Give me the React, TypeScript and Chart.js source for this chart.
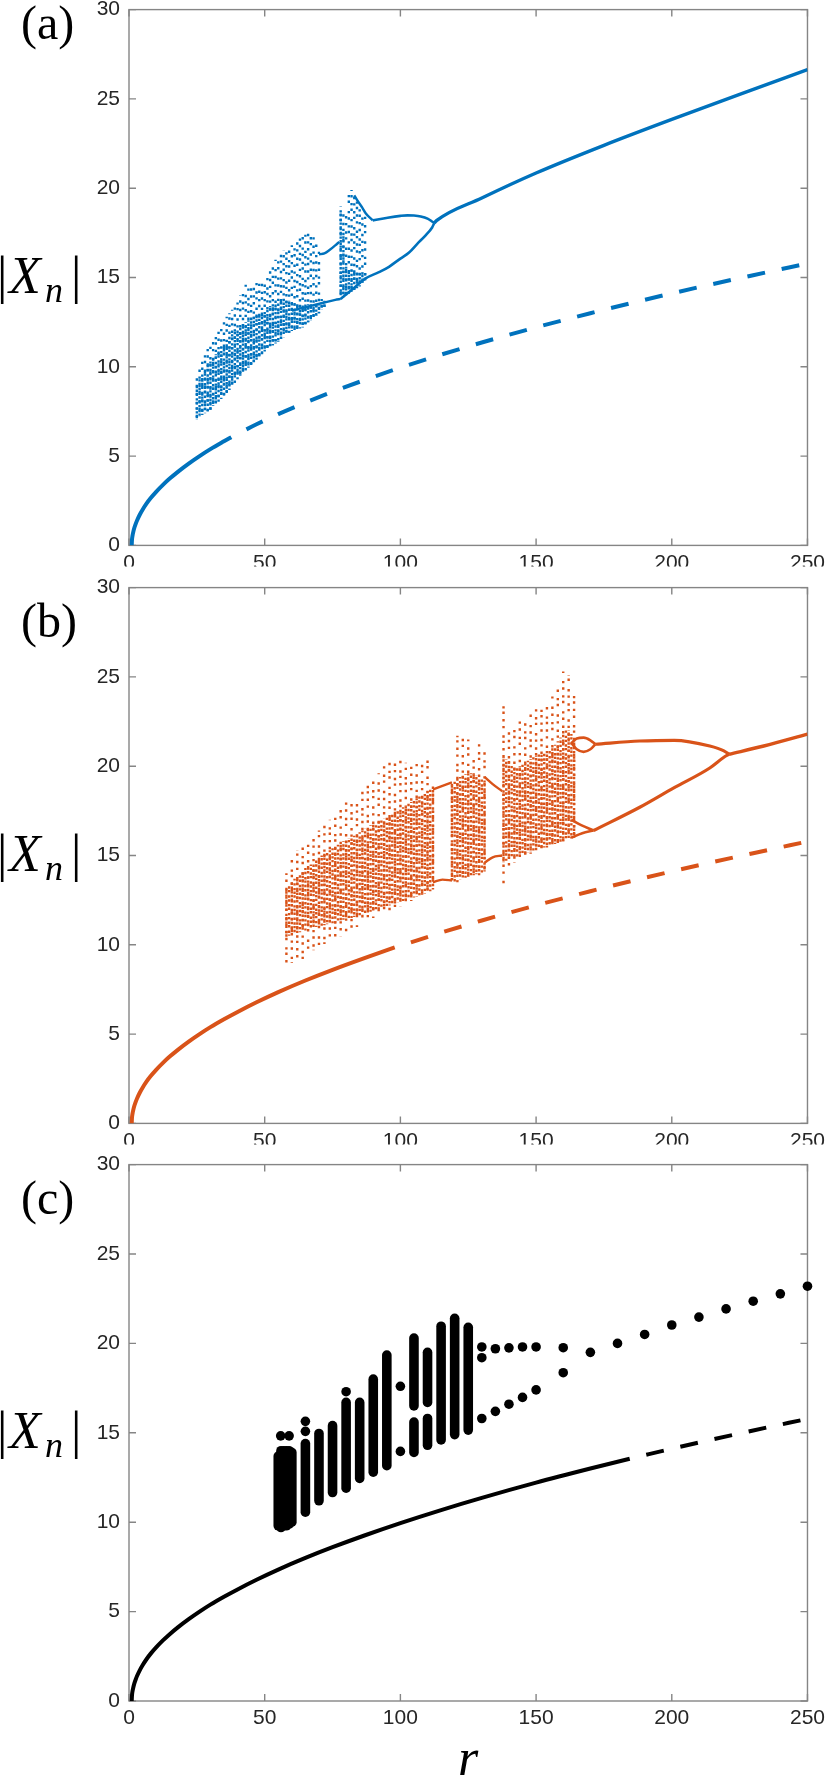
import React, { useEffect, useRef } from "react";
import { Chart, registerables } from "chart.js";

Chart.register(...registerables);

const SANS = "'Liberation Sans', Arial, Helvetica, sans-serif";
const SERIF = "'Liberation Serif', 'Times New Roman', serif";

const BLUE = "#0072BD";
const ORANGE = "#D95319";
const BLACK = "#000000";

// ---------- axes ----------
const xTicks = [0, 50, 100, 150, 200, 250];
const yTicks = [0, 5, 10, 15, 20, 25, 30];

// ---------- fixed-point branch |X| vs r (same in all panels) ----------
const fpR = [1, 1.1, 1.3, 1.6, 2, 2.5, 3, 4, 5, 6.5, 8, 10, 12.5, 15, 18, 22, 26, 30, 35, 40, 47, 55, 65, 75, 87, 100, 115, 130, 150, 170, 190, 210, 230, 250];
const fpY = [0, 0.32, 0.55, 0.77, 1.0, 1.22, 1.41, 1.73, 2.0, 2.35, 2.65, 3.0, 3.39, 3.74, 4.12, 4.58, 5.0, 5.39, 5.83, 6.24, 6.78, 7.35, 8.0, 8.6, 9.27, 9.95, 10.68, 11.36, 12.21, 13.0, 13.75, 14.46, 15.13, 15.78];
// where the branch turns from solid (stable) to dashed (unstable)
const aSplit = [37.7, 6.06];
const bSplit = [97.9, 9.85];
const cSplit = [184.5, 13.55];

// ---------- panel (a) ----------
const aCloudR = [25, 26, 27, 28, 29, 30, 31, 32, 33, 34, 35, 36, 37, 38, 39, 40, 41, 42, 43, 44, 45, 46, 47, 48, 49, 50, 51, 52, 53, 54, 55, 56, 57, 58, 59, 60, 61, 62, 63, 64, 65, 66, 67, 68, 69, 70, 71, 72, 78, 79, 80, 81, 82, 83, 84, 85, 86, 87];
const aCloudLo = [7.05, 7.2, 7.3, 7.4, 7.5, 7.6, 7.8, 7.9, 8.05, 8.2, 8.35, 8.5, 8.7, 8.9, 9.1, 9.3, 9.5, 9.65, 9.8, 9.95, 10.1, 10.25, 10.4, 10.55, 10.7, 10.85, 11.0, 11.1, 11.2, 11.3, 11.4, 11.55, 11.65, 11.8, 11.9, 12.0, 12.05, 12.1, 12.15, 12.2, 12.35, 12.5, 12.6, 12.7, 12.85, 13.0, 13.2, 13.35, 13.8, 13.9, 14.0, 14.1, 14.2, 14.3, 14.4, 14.5, 14.7, 14.85];
const aCloudHi = [9.5, 10.3, 10.5, 10.8, 11.0, 11.3, 11.6, 11.8, 12.1, 12.3, 12.5, 12.8, 13.0, 13.2, 13.4, 13.6, 14.0, 14.3, 14.6, 14.6, 14.6, 14.6, 14.7, 14.7, 14.7, 15.0, 15.2, 15.4, 15.7, 16.0, 16.2, 16.4, 16.5, 16.6, 16.7, 16.8, 16.9, 17.0, 17.2, 17.3, 17.4, 17.5, 17.6, 17.3, 17.0, 16.6, 13.8, 13.7, 19.0, 18.8, 18.6, 19.8, 19.9, 19.6, 19.3, 18.9, 18.7, 18.5];
const aCoreHi = [9.0, 9.3, 9.6, 9.9, 10.1, 10.3, 10.5, 10.7, 10.9, 11.1, 11.3, 11.5, 11.7, 11.85, 12.0, 12.15, 12.3, 12.4, 12.5, 12.6, 12.7, 12.8, 12.9, 13.0, 13.1, 13.2, 13.3, 13.4, 13.5, 13.6, 13.7, 13.8, 13.8, 13.8, 13.7, 13.6, 13.5, 13.5, 13.5, 13.5, 13.5, 13.5, 13.5, 13.5, 13.5, 13.55, 13.6, 13.65, 18.8, 17.5, 15.6, 15.5, 15.4, 15.4, 15.3, 15.3, 15.3, 15.3];
const aWinLowR = [60, 64, 68, 72, 76, 78];
const aWinLowY = [13.15, 13.3, 13.45, 13.6, 13.75, 13.8];
const aWinUpR = [70, 72, 74, 76, 77.5];
const aWinUpY = [16.3, 16.35, 16.55, 16.8, 17.0];
const aForkR = [83, 84.2, 86, 87.2, 89.8];
const aForkY = [19.6, 19.3, 18.9, 18.6, 18.2];
const aUpperR = [89.8, 95.3, 100, 102.6, 105, 107.5, 110, 111.5, 112.5];
const aUpperY = [18.2, 18.35, 18.45, 18.48, 18.47, 18.42, 18.3, 18.15, 18.05];
const aLowerR = [78, 82, 87.2, 92.1, 95.8, 100, 103.2, 106.3, 109.3, 111.7, 112.5];
const aLowerY = [13.8, 14.3, 14.95, 15.3, 15.6, 16.06, 16.4, 16.9, 17.36, 17.8, 18.05];
const aMainR = [112.5, 113.3, 130, 150, 175, 200, 225, 250];
const aMainY = [18.05, 18.18, 19.45, 20.85, 22.4, 23.85, 25.25, 26.64];

// ---------- panel (b) ----------
const bHaloR = [58, 60, 62, 64, 66, 68, 70, 72, 74, 76, 78, 80, 82, 84, 86, 88, 90, 92, 94, 96, 98, 100, 102, 104, 106, 108, 110, 112, 119, 121, 123, 125, 127, 129, 131, 138, 140, 142, 144, 146, 148, 150, 152, 154, 156, 158, 160, 162, 164];
const bHaloLo = [9.0, 9.0, 9.1, 9.15, 9.5, 9.7, 9.9, 10.05, 10.2, 10.35, 10.45, 10.6, 10.8, 11.0, 11.2, 11.35, 11.5, 11.65, 11.75, 11.9, 12.05, 12.15, 12.3, 12.45, 12.6, 12.8, 12.95, 13.3, 13.4, 13.5, 13.6, 13.7, 13.8, 13.9, 14.0, 13.4, 14.4, 14.6, 14.8, 15.0, 15.1, 15.2, 15.3, 15.45, 15.55, 15.7, 15.8, 15.9, 16.0];
const bHaloHi = [14.0, 14.9, 15.3, 15.6, 15.9, 16.2, 16.4, 16.7, 17.0, 17.3, 17.6, 18.0, 17.9, 18.2, 18.8, 19.2, 19.3, 19.6, 20.0, 20.3, 20.4, 20.3, 20.2, 20.1, 20.2, 20.3, 20.4, 19.0, 19.0, 21.7, 21.7, 21.5, 20.8, 21.45, 21.0, 23.7, 22.0, 22.3, 22.5, 22.6, 23.0, 23.4, 23.4, 23.4, 23.9, 24.4, 25.3, 25.1, 24.2];
const bCoreR = [58, 59, 60, 61, 62, 63, 64, 65, 66, 67, 68, 69, 70, 71, 72, 73, 74, 75, 76, 77, 78, 79, 80, 81, 82, 83, 84, 85, 86, 87, 88, 89, 90, 91, 92, 93, 94, 95, 96, 97, 98, 99, 100, 101, 102, 103, 104, 105, 106, 107, 108, 109, 110, 111, 112,
  119, 120, 121, 122, 123, 124, 125, 126, 127, 128, 129, 130, 131,
  138, 139, 140, 141, 142, 143, 144, 145, 146, 147, 148, 149, 150, 151, 152, 153, 154, 155, 156, 157, 158, 159, 160, 161, 162, 163, 164];
const bCoreLo = [10.4, 10.5, 10.55, 10.6, 10.65, 10.7, 10.75, 10.8, 10.85, 10.9, 10.95, 11.0, 11.0, 11.05, 11.1, 11.15, 11.2, 11.2, 11.25, 11.3, 11.35, 11.4, 11.45, 11.5, 11.5, 11.55, 11.6, 11.65, 11.7, 11.75, 11.8, 11.85, 11.9, 11.95, 12.0, 12.05, 12.1, 12.15, 12.2, 12.25, 12.3, 12.35, 12.4, 12.45, 12.5, 12.55, 12.6, 12.65, 12.7, 12.75, 12.8, 12.85, 12.9, 13.0, 13.1,
  13.5, 13.55, 13.6, 13.65, 13.7, 13.75, 13.8, 13.85, 13.9, 13.95, 14.0, 14.05, 14.1,
  14.6, 14.7, 14.8, 14.85, 14.9, 14.95, 15.0, 15.05, 15.1, 15.15, 15.2, 15.25, 15.3, 15.35, 15.4, 15.45, 15.5, 15.55, 15.6, 15.65, 15.7, 15.75, 15.8, 15.85, 15.9, 15.95, 16.0];
const bCoreHi = [13.2, 13.4, 13.5, 13.7, 13.8, 14.0, 14.1, 14.3, 14.4, 14.5, 14.6, 14.75, 14.9, 15.0, 15.1, 15.2, 15.3, 15.4, 15.5, 15.6, 15.7, 15.8, 15.9, 15.95, 16.0, 16.1, 16.2, 16.3, 16.4, 16.5, 16.6, 16.7, 16.75, 16.8, 16.9, 17.0, 17.1, 17.2, 17.3, 17.35, 17.45, 17.55, 17.6, 17.7, 17.8, 17.9, 18.0, 18.1, 18.2, 18.3, 18.4, 18.5, 18.6, 18.7, 18.8,
  19.0, 19.2, 19.3, 19.4, 19.5, 19.55, 19.6, 19.6, 19.6, 19.5, 19.4, 19.3, 19.2,
  20.5, 20.4, 20.3, 20.1, 20.0, 20.0, 20.0, 20.1, 20.2, 20.3, 20.4, 20.5, 20.6, 20.65, 20.7, 20.75, 20.8, 20.9, 21.0, 21.2, 21.4, 21.6, 21.8, 22.0, 22.0, 21.8, 21.5];
const bWinLoR = [112, 115.5, 119];
const bWinLoY = [13.5, 13.65, 13.6];
const bWinUpR = [112, 115.5, 119];
const bWinUpY = [18.7, 18.9, 19.1];
const bWin2LoR = [131, 134, 137.5];
const bWin2LoY = [14.6, 14.9, 15.0];
const bWin2UpR = [131, 134, 137.5];
const bWin2UpY = [19.4, 19.0, 18.6];
const bLoopAR = [163, 165, 167.5, 170, 171.8];
const bLoopAY = [21.3, 21.55, 21.6, 21.45, 21.23];
const bLoopBR = [163, 165, 167.5, 170, 171.8];
const bLoopBY = [21.3, 20.95, 20.8, 20.95, 21.23];
const bLoopCR = [163, 166.6, 171.2];
const bLoopCY = [17.0, 16.7, 16.4];
const bLoopDR = [163, 167, 171.2];
const bLoopDY = [16.0, 16.25, 16.4];
const bUpperR = [171.8, 188.2, 200.9, 214, 219.2, 221.1];
const bUpperY = [21.23, 21.41, 21.45, 21.13, 20.86, 20.67];
const bLowerR = [171.2, 188.2, 200.9, 214, 219.2, 221.1];
const bLowerY = [16.4, 17.7, 18.8, 19.9, 20.5, 20.67];
const bMainR = [221.1, 233.9, 250];
const bMainY = [20.67, 21.13, 21.79];

// ---------- panel (c) ----------
const cColR = [55, 56, 57, 58, 59, 60, 65, 70, 75, 80, 85, 90, 95, 105, 105, 110, 110, 115, 120, 125];
const cColLo = [9.8, 9.7, 9.8, 9.8, 9.9, 10.0, 10.56, 11.2, 11.66, 11.9, 12.45, 12.8, 13.16, 13.9, 16.5, 14.3, 16.7, 14.6, 14.9, 15.15];
const cColHi = [13.7, 14.0, 14.0, 14.0, 14.0, 13.9, 14.4, 14.96, 15.4, 16.7, 16.7, 18.0, 19.35, 15.6, 20.3, 15.8, 19.5, 20.96, 21.4, 20.9];
const cDotR = [55.9, 59, 65, 65, 80, 100, 100, 130, 130, 130, 135, 135, 140, 140, 145, 145, 150, 150, 160, 160, 170, 180, 190, 200, 210, 220, 230, 240, 250];
const cDotY = [14.83, 14.83, 15.08, 15.64, 17.3, 17.6, 13.96, 19.8, 19.2, 15.8, 19.7, 16.2, 19.75, 16.6, 19.8, 16.98, 19.8, 17.4, 19.76, 18.36, 19.5, 20.0, 20.5, 21.03, 21.47, 21.93, 22.36, 22.77, 23.2];

// ---------- stipple styles (visual only) ----------
const coreDashes = [
  [2.4, 1.2, 2.4, 2.2, 2.4, 1.6, 2.4, 3.0],
  [2.4, 2.0, 2.4, 1.0, 2.4, 2.8, 2.4, 1.8],
  [2.4, 2.6, 2.4, 1.4, 2.4, 1.2, 2.4, 2.4],
];
const haloDashes = [
  [2.4, 3.5, 2.4, 6.0, 2.4, 4.5, 2.4, 8.0],
  [2.4, 5.0, 2.4, 3.0, 2.4, 7.0, 2.4, 4.5],
  [2.4, 4.0, 2.4, 8.0, 2.4, 3.2, 2.4, 5.5],
];

// ---------- helpers ----------
type Pt = { x: number; y: number };
const pts = (rs: number[], ys: number[]): Pt[] => rs.map((r, i) => ({ x: r, y: ys[i] }));
const hash = (i: number) => (((i + 11) * 2654435761) >>> 0) / 4294967296;

function splitCurve(split: number[]) {
  const solid: Pt[] = [];
  const dashed: Pt[] = [];
  fpR.forEach((r, i) => {
    if (r < split[0]) solid.push({ x: r, y: fpY[i] });
    else dashed.push({ x: r, y: fpY[i] });
  });
  solid.push({ x: split[0], y: split[1] });
  dashed.unshift({ x: split[0], y: split[1] });
  return { solid, dashed };
}

function curve(data: Pt[], color: string, width: number, extra: any = {}) {
  return {
    data,
    showLine: true,
    borderColor: color,
    backgroundColor: color,
    borderWidth: width,
    pointRadius: 0,
    pointHoverRadius: 0,
    cubicInterpolationMode: "monotone",
    borderCapStyle: "butt",
    ...extra,
  };
}

function fixedPointSets(split: number[], color: string) {
  const { solid, dashed } = splitCurve(split);
  return [
    curve(solid, color, 4),
    curve(dashed, color, 4, { borderDash: [18, 17], borderDashOffset: 18 }),
  ];
}

function columnSets(rs: number[], lo: number[], hi: number[], color: string, width: number, dashes: number[][], seed: number) {
  return rs.map((r, i) => {
    const h = hash(i * 3 + seed);
    const dash = dashes[Math.floor(h * dashes.length) % dashes.length];
    const period = dash.reduce((s, v) => s + v, 0);
    return {
      data: [{ x: r, y: lo[i] }, { x: r, y: hi[i] }],
      showLine: true,
      borderColor: color,
      backgroundColor: color,
      borderWidth: width,
      borderDash: dash,
      borderDashOffset: hash(i * 7 + seed * 13 + 5) * period,
      borderCapStyle: "butt",
      pointRadius: 0,
      pointHoverRadius: 0,
    };
  });
}

function datasetsA() {
  return [
    ...columnSets(aCloudR, aCloudLo, aCloudHi, BLUE, 2.4, haloDashes, 1),
    ...columnSets(aCloudR, aCloudLo, aCoreHi, BLUE, 2.4, coreDashes, 7),
    curve(pts(aWinLowR, aWinLowY), BLUE, 2.4),
    curve(pts(aWinUpR, aWinUpY), BLUE, 2.4),
    curve(pts(aForkR, aForkY), BLUE, 2.4),
    curve(pts(aUpperR, aUpperY), BLUE, 2.6),
    curve(pts(aLowerR, aLowerY), BLUE, 2.6),
    curve(pts(aMainR, aMainY), BLUE, 3.4),
    ...fixedPointSets(aSplit, BLUE),
  ];
}

function datasetsB() {
  return [
    ...columnSets(bHaloR, bHaloLo, bHaloHi, ORANGE, 2.4, haloDashes, 3),
    ...columnSets(bCoreR, bCoreLo, bCoreHi, ORANGE, 2.4, coreDashes, 9),
    curve(pts(bWinLoR, bWinLoY), ORANGE, 2.4),
    curve(pts(bWinUpR, bWinUpY), ORANGE, 2.4),
    curve(pts(bWin2LoR, bWin2LoY), ORANGE, 2.4),
    curve(pts(bWin2UpR, bWin2UpY), ORANGE, 2.4),
    curve(pts(bLoopAR, bLoopAY), ORANGE, 2.6),
    curve(pts(bLoopBR, bLoopBY), ORANGE, 2.6),
    curve(pts(bLoopCR, bLoopCY), ORANGE, 2.6),
    curve(pts(bLoopDR, bLoopDY), ORANGE, 2.6),
    curve(pts(bUpperR, bUpperY), ORANGE, 3.2),
    curve(pts(bLowerR, bLowerY), ORANGE, 3.2),
    curve(pts(bMainR, bMainY), ORANGE, 3.4),
    ...fixedPointSets(bSplit, ORANGE),
  ];
}

function datasetsC() {
  const cols = cColR.map((r, i) => ({
    data: [{ x: r, y: cColLo[i] }, { x: r, y: cColHi[i] }],
    showLine: true,
    borderColor: BLACK,
    backgroundColor: BLACK,
    borderWidth: 9.6,
    borderCapStyle: "round",
    pointRadius: 0,
    pointHoverRadius: 0,
    clip: false,
  }));
  return [
    ...cols,
    {
      data: pts(cDotR, cDotY),
      showLine: false,
      pointRadius: 4.8,
      pointHoverRadius: 4.8,
      pointBackgroundColor: BLACK,
      pointBorderWidth: 0,
      backgroundColor: BLACK,
      borderColor: BLACK,
      clip: false,
    },
    ...fixedPointSets(cSplit, BLACK),
  ];
}

// ---------- frame, inward ticks and labels ----------
const framePlugin = {
  id: "frame",
  beforeDatasetsDraw(chart: any) {
    const { ctx, chartArea: ca, scales } = chart;
    const x = scales.x;
    const y = scales.y;
    ctx.save();
    ctx.strokeStyle = "#858585";
    ctx.lineWidth = 1.4;
    ctx.strokeRect(ca.left, ca.top, ca.right - ca.left, ca.bottom - ca.top);
    ctx.beginPath();
    for (const v of xTicks) {
      const px = x.getPixelForValue(v);
      ctx.moveTo(px, ca.bottom);
      ctx.lineTo(px, ca.bottom - 7);
      ctx.moveTo(px, ca.top);
      ctx.lineTo(px, ca.top + 7);
    }
    for (const v of yTicks) {
      const py = y.getPixelForValue(v);
      ctx.moveTo(ca.left, py);
      ctx.lineTo(ca.left + 7, py);
      ctx.moveTo(ca.right, py);
      ctx.lineTo(ca.right - 7, py);
    }
    ctx.stroke();
    ctx.restore();
  },
  afterDraw(chart: any, _args: any, o: any) {
    const { ctx, chartArea: ca } = chart;
    ctx.save();
    ctx.fillStyle = "#000";
    ctx.textBaseline = "alphabetic";
    ctx.textAlign = "left";
    ctx.font = `48px ${SERIF}`;
    ctx.fillText(o.label, 21, ca.top + o.labelDy);
    const base = ca.top + 283;
    ctx.font = `52px ${SERIF}`;
    ctx.fillText("|", -3, base);
    ctx.font = `italic 52px ${SERIF}`;
    ctx.fillText("X", 9, base);
    ctx.font = `italic 36px ${SERIF}`;
    ctx.fillText("n", 45, base + 9);
    ctx.font = `52px ${SERIF}`;
    ctx.fillText("|", 71, base);
    if (o.showR) {
      ctx.font = `italic 52px ${SERIF}`;
      ctx.textAlign = "center";
      ctx.fillText("r", (ca.left + ca.right) / 2, ca.bottom + 74);
    }
    ctx.restore();
  },
};

type PanelCfg = {
  key: string;
  top: number;
  height: number;
  axisH: number;
  padBottom: number;
  label: string;
  labelDy: number;
  showR: boolean;
  datasets: () => any[];
};

const panels: PanelCfg[] = [
  { key: "a", top: -12, height: 579, axisH: 21, padBottom: 0, label: "(a)", labelDy: 29, showR: false, datasets: datasetsA },
  { key: "b", top: 566, height: 579, axisH: 21, padBottom: 0, label: "(b)", labelDy: 49, showR: false, datasets: datasetsB },
  { key: "c", top: 1143, height: 634, axisH: 40, padBottom: 36, label: "(c)", labelDy: 49, showR: true, datasets: datasetsC },
];

function Panel({ cfg }: { cfg: PanelCfg }) {
  const ref = useRef<HTMLCanvasElement>(null);
  useEffect(() => {
    const tickFont = { family: SANS, size: 21 };
    const chart = new Chart(ref.current as HTMLCanvasElement, {
      type: "scatter",
      data: { datasets: cfg.datasets() },
      options: {
        animation: false,
        responsive: false,
        maintainAspectRatio: false,
        events: [],
        layout: { padding: { top: 20, right: 19, bottom: cfg.padBottom, left: 0 } },
        plugins: {
          legend: { display: false },
          tooltip: { enabled: false },
          frame: { label: cfg.label, labelDy: cfg.labelDy, showR: cfg.showR },
        } as any,
        scales: {
          x: {
            type: "linear",
            min: 0,
            max: 250,
            grid: { display: false, drawTicks: false, tickLength: 0 },
            border: { display: false },
            ticks: { stepSize: 50, font: tickFont, color: "#262626", padding: 5, maxRotation: 0, autoSkip: false },
            afterFit: (s: any) => {
              s.height = cfg.axisH;
            },
          },
          y: {
            type: "linear",
            min: 0,
            max: 30,
            grid: { display: false, drawTicks: false, tickLength: 0 },
            border: { display: false },
            ticks: { stepSize: 5, font: tickFont, color: "#262626", padding: 9, autoSkip: false },
            afterFit: (s: any) => {
              s.width = 129;
            },
          },
        },
      } as any,
      plugins: [framePlugin as any],
    });
    return () => chart.destroy();
  }, [cfg]);
  return (
    <canvas
      ref={ref}
      width={830}
      height={cfg.height}
      style={{ position: "absolute", left: 0, top: cfg.top, width: 830, height: cfg.height, display: "block" }}
    />
  );
}

export default function App() {
  return (
    <div
      style={{
        position: "absolute",
        left: 0,
        top: 0,
        width: 830,
        height: 1777,
        overflow: "hidden",
        background: "#ffffff",
      }}
    >
      {panels.map((p) => (
        <Panel key={p.key} cfg={p} />
      ))}
    </div>
  );
}
